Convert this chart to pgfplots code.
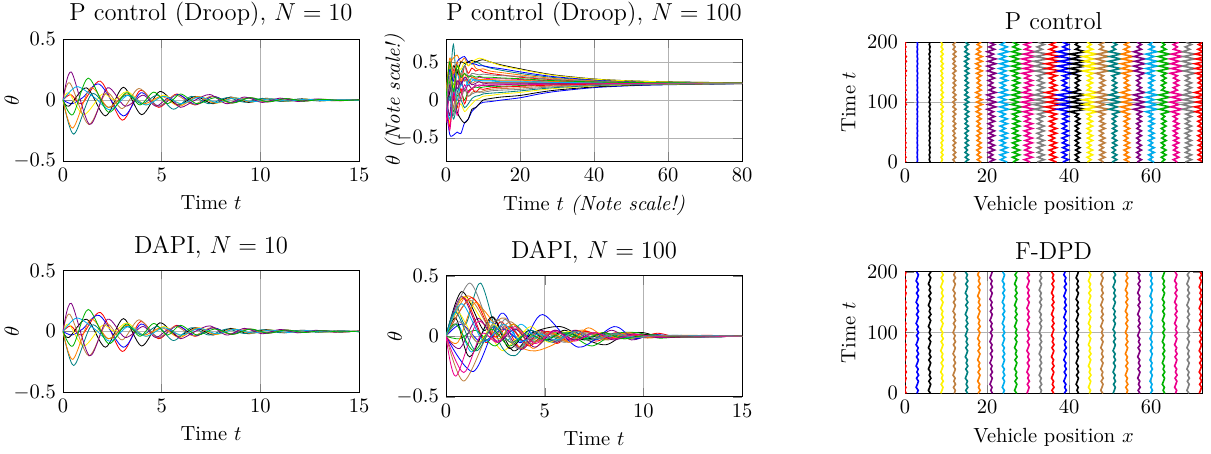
\documentclass[border=0pt]{standalone}
\usepackage{pgfplots}
\usepackage{pgfplotstable}
\pgfplotsset{compat=1.18}

% ---- N = 10 runs (P control and DAPI look the same) ----
\pgfplotstableread[row sep=\\]{t y\\0 0\\0.4 0.045\\0.95 -0.03\\1.9 0.155\\3.0 -0.165\\3.92 0.08\\4.84 -0.06\\5.76 0.05\\6.68 -0.04\\7.6 0.03\\8.52 -0.025\\9.44 0.02\\10.36 -0.015\\11.28 0.012\\12.2 -0.009\\13.12 0.007\\14.04 -0.005\\15 0.003\\}\qa
\pgfplotstableread[row sep=\\]{t y\\0 0\\0.45 -0.03\\1.0 0.02\\1.85 0.13\\3.05 -0.13\\3.95 0.06\\4.85 -0.05\\5.8 0.045\\6.7 -0.035\\7.6 0.03\\8.5 -0.02\\9.4 0.018\\10.3 -0.013\\11.2 0.01\\12.1 -0.008\\13 0.006\\14 -0.004\\15 0.002\\}\qb
\pgfplotstableread[row sep=\\]{t y\\0 0\\0.3 -0.05\\1.2 0.1\\2.15 -0.13\\3.06 0.105\\3.98 -0.12\\4.9 0.07\\5.8 -0.04\\6.7 0.03\\7.6 -0.03\\8.5 0.025\\9.4 -0.02\\10.3 0.015\\11.2 -0.012\\12.1 0.01\\13 -0.007\\14 0.005\\15 -0.003\\}\qc
\pgfplotstableread[row sep=\\]{t y\\0 0\\0.3 0.06\\1.05 -0.12\\2.0 0.05\\2.6 0.0\\3.25 0.07\\4.2 -0.04\\5.1 0.04\\6.0 -0.035\\6.9 0.03\\7.8 -0.025\\8.7 0.02\\9.6 -0.015\\10.5 0.012\\11.4 -0.01\\12.3 0.008\\13.2 -0.006\\15 0.002\\}\qd
\pgfplotstableread[row sep=\\]{t y\\0 0\\0.35 0.14\\1.3 -0.2\\2.2 0.06\\3.0 -0.07\\3.85 0.095\\4.8 -0.05\\5.7 0.04\\6.6 -0.035\\7.5 0.03\\8.4 -0.02\\9.3 0.018\\10.2 -0.014\\11.1 0.011\\12 -0.008\\12.9 0.006\\13.8 -0.004\\15 0.002\\}\qe
\pgfplotstableread[row sep=\\]{t y\\0 0\\0.55 -0.28\\1.45 0.05\\2.3 -0.06\\3.2 0.04\\4.0 -0.03\\4.8 0.04\\5.6 -0.075\\6.5 0.03\\7.4 -0.03\\8.3 0.02\\9.2 -0.018\\10.1 0.014\\11 -0.011\\11.9 0.008\\12.8 -0.006\\13.7 0.004\\15 -0.002\\}\qf
\pgfplotstableread[row sep=\\]{t y\\0 0\\0.5 -0.23\\1.4 0.1\\2.3 -0.06\\3.2 0.05\\4.1 -0.03\\5.0 0.03\\5.9 -0.05\\6.8 0.03\\7.7 -0.025\\8.6 0.02\\9.5 -0.016\\10.4 0.012\\11.3 -0.01\\12.2 0.007\\13.1 -0.005\\14 0.003\\15 -0.002\\}\qg
\pgfplotstableread[row sep=\\]{t y\\0 0\\0.42 0.23\\1.35 -0.2\\2.25 0.1\\3.15 -0.05\\4.05 0.04\\4.7 -0.05\\5.4 0.02\\5.95 -0.06\\6.7 0.0\\7.45 0.045\\8.3 -0.03\\9.2 0.025\\10.1 -0.02\\11 0.016\\11.9 -0.012\\12.8 0.009\\13.7 -0.006\\15 0.003\\}\qh
\pgfplotstableread[row sep=\\]{t y\\0 0\\0.7 0.11\\1.6 0.02\\2.4 -0.08\\3.3 0.04\\4.2 -0.04\\5.1 0.03\\6.0 -0.03\\6.9 0.025\\7.8 -0.02\\8.7 0.018\\9.6 -0.014\\10.5 0.011\\11.4 -0.009\\12.3 0.007\\13.2 -0.005\\14.1 0.003\\15 -0.002\\}\qi
\pgfplotstableread[row sep=\\]{t y\\0 0\\0.5 -0.12\\1.28 0.18\\2.3 -0.1\\3.2 0.06\\3.9 -0.04\\4.6 0.065\\5.3 -0.03\\5.95 0.05\\6.8 -0.03\\7.7 0.02\\8.6 -0.025\\9.5 0.02\\10.4 -0.015\\11.3 0.012\\12.2 -0.009\\13.1 0.006\\14 -0.004\\15 0.002\\}\qj

% ---- P control, N = 100 (24 of the runs) ----
\pgfplotstableread{
t a1 a2 a3 a4 a5 a6 a7 a8 a9 a10 a11 a12 a13 a14 a15 a16 a17 a18 a19 a20 a21 a22 a23 a24
0 0 -0.1 0 0.05 -0.2 0 -0.1 0.1 0.2 0 -0.3 0.1 0 0 0 -0.05 0 -0.15 0.1 -0.2 0 0 0 -0.1
1 0.3 -0.45 -0.2 -0.3 0.3 0.2 0.45 -0.2 0 0.25 0.1 0.35 -0.35 0.4 0.1 0.3 0.5 0.05 0.55 0.2 -0.25 0.5 -0.4 0.3
2 0.05 -0.46 0.1 0.2 -0.1 0.73 0.55 0.35 0.3 -0.15 0.4 0.2 0.05 0.25 0.45 0.15 0.3 -0.25 0.35 0 0.15 0.1 0.1 -0.2
3 0.4 -0.42 -0.15 -0.1 0.25 0.1 0.59 0.15 0.35 0.05 0.2 0.4 -0.1 0.5 0.35 0.45 0.2 -0.05 0.5 0.25 0 0.45 -0.2 0.1
4 0.2 -0.44 -0.25 -0.05 0.1 0.35 0.5 0.25 0.2 0.1 0.3 0.3 0.15 0.55 0.5 0.4 0.35 0 0.25 0.2 0.2 0.3 0.05 0
5 0.45 -0.3 -0.3 -0.15 0.15 0.45 0.55 0.12 0.28 0 0.25 0.45 -0.05 0.57 0.48 0.5 0.25 -0.1 0.35 0.3 0.15 0.35 0.2 0.15
6 0.35 -0.25 -0.25 -0.1 0.05 0.5 0.45 0.2 0.2 0.12 0.32 0.3 0.1 0.5 0.5 0.45 0.28 -0.05 0.22 0.25 0.25 0.3 0.1 0.05
7 0.42 -0.15 -0.12 -0.05 0.1 0.47 0.5 0.15 0.25 0.15 0.3 0.35 0.15 0.48 0.52 0.5 0.22 0.02 0.3 0.2 0.28 0.32 0.15 0.08
8 0.38 -0.1 -0.1 0 0.12 0.5 0.42 0.2 0.27 0.17 0.28 0.34 0.1 0.47 0.5 0.53 0.25 0.05 0.28 0.22 0.25 0.3 0.18 0.1
9 0.4 -0.05 -0.05 0.02 0.1 0.48 0.4 0.18 0.26 0.16 0.3 0.33 0.15 0.45 0.52 0.55 0.24 0.06 0.27 0.24 0.26 0.31 0.2 0.11
10 0.37 -0.03 0 0.05 0.12 0.45 0.41 0.2 0.26 0.17 0.29 0.34 0.14 0.45 0.53 0.54 0.23 0.08 0.27 0.22 0.25 0.3 0.19 0.1
12 0.35 -0.02 0.02 0.06 0.14 0.42 0.38 0.19 0.26 0.18 0.28 0.33 0.16 0.43 0.5 0.5 0.23 0.09 0.27 0.22 0.25 0.3 0.2 0.12
15 0.33 0 0.04 0.08 0.15 0.39 0.36 0.2 0.25 0.18 0.28 0.32 0.17 0.41 0.46 0.45 0.23 0.1 0.26 0.22 0.24 0.29 0.2 0.13
20 0.3 0.03 0.06 0.1 0.16 0.35 0.33 0.21 0.25 0.19 0.27 0.31 0.18 0.37 0.41 0.4 0.23 0.12 0.26 0.22 0.24 0.28 0.2 0.14
25 0.28 0.078 0.1 0.13 0.175 0.318 0.303 0.213 0.243 0.198 0.258 0.288 0.19 0.333 0.363 0.355 0.228 0.145 0.25 0.22 0.235 0.265 0.205 0.16
30 0.264 0.115 0.132 0.154 0.187 0.292 0.281 0.215 0.237 0.204 0.248 0.27 0.198 0.303 0.325 0.319 0.226 0.165 0.242 0.22 0.231 0.253 0.209 0.176
40 0.244 0.163 0.172 0.184 0.202 0.259 0.253 0.217 0.229 0.211 0.235 0.247 0.208 0.265 0.277 0.274 0.223 0.19 0.232 0.22 0.226 0.238 0.214 0.196
50 0.234 0.188 0.193 0.2 0.21 0.242 0.239 0.218 0.225 0.215 0.229 0.235 0.213 0.246 0.252 0.251 0.222 0.203 0.227 0.22 0.223 0.23 0.217 0.206
60 0.228 0.201 0.204 0.208 0.214 0.233 0.231 0.219 0.223 0.217 0.225 0.229 0.216 0.235 0.239 0.238 0.221 0.21 0.224 0.22 0.222 0.226 0.218 0.212
80 0.222 0.214 0.215 0.216 0.218 0.224 0.223 0.22 0.221 0.219 0.222 0.223 0.219 0.225 0.226 0.225 0.22 0.217 0.221 0.22 0.221 0.222 0.219 0.218
}\tabB

% ---- P control: deviation of each vehicle from its slot 3k, over time ----
\pgfplotstableread{
t d0 d1 d2 d3 d4 d5 d6 d7 d8 d9 d10 d11 d12 d13 d14 d15 d16 d17 d18 d19 d20 d21 d22 d23 d24
0 0.2 -0.04 0.12 -0.2 0.18 -0.4 0.55 -0.56 0.9 -0.72 0.5 -0.81 0.9 -0.56 0.6 -0.56 0.35 -0.54 0.7 -0.42 0.7 -0.48 0.35 -0.72 0.7
4 -0.14 0.05 -0.1 0.12 -0.32 0.45 -0.38 0.8 -0.72 0.45 -0.9 0.9 -0.63 0.8 -0.48 0.35 -0.63 0.6 -0.49 0.6 -0.56 0.3 -0.63 0.8 -0.49
8 0.2 -0.04 0.06 -0.22 0.35 -0.32 0.55 -0.64 0.45 -0.81 1 -0.63 0.9 -0.64 0.3 -0.63 0.7 -0.42 0.7 -0.48 0.35 -0.54 0.7 -0.56 0.7
12 -0.16 0.02 -0.11 0.25 -0.25 0.45 -0.44 0.4 -0.81 0.9 -0.7 0.9 -0.72 0.4 -0.54 0.7 -0.49 0.6 -0.56 0.3 -0.63 0.6 -0.49 0.8 -0.56
16 0.1 -0.04 0.12 -0.18 0.35 -0.36 0.28 -0.72 0.9 -0.63 1 -0.72 0.45 -0.72 0.6 -0.49 0.7 -0.48 0.35 -0.54 0.7 -0.42 0.7 -0.64 0.35
20 -0.18 0.05 -0.08 0.25 -0.28 0.22 -0.5 0.8 -0.63 0.9 -0.8 0.45 -0.81 0.8 -0.42 0.7 -0.56 0.3 -0.63 0.6 -0.49 0.6 -0.56 0.4 -0.63
24 0.2 -0.04 0.12 -0.2 0.18 -0.4 0.55 -0.56 0.9 -0.72 0.5 -0.81 0.9 -0.56 0.6 -0.56 0.35 -0.54 0.7 -0.42 0.7 -0.48 0.35 -0.72 0.7
28 -0.14 0.05 -0.1 0.12 -0.32 0.45 -0.38 0.8 -0.72 0.45 -0.9 0.9 -0.63 0.8 -0.48 0.35 -0.63 0.6 -0.49 0.6 -0.56 0.3 -0.63 0.8 -0.49
32 0.2 -0.04 0.06 -0.22 0.35 -0.32 0.55 -0.64 0.45 -0.81 1 -0.63 0.9 -0.64 0.3 -0.63 0.7 -0.42 0.7 -0.48 0.35 -0.54 0.7 -0.56 0.7
36 -0.16 0.02 -0.11 0.25 -0.25 0.45 -0.44 0.4 -0.81 0.9 -0.7 0.9 -0.72 0.4 -0.54 0.7 -0.49 0.6 -0.56 0.3 -0.63 0.6 -0.49 0.8 -0.56
40 0.1 -0.04 0.12 -0.18 0.35 -0.36 0.28 -0.72 0.9 -0.63 1 -0.72 0.45 -0.72 0.6 -0.49 0.7 -0.48 0.35 -0.54 0.7 -0.42 0.7 -0.64 0.35
44 -0.18 0.05 -0.08 0.25 -0.28 0.22 -0.5 0.8 -0.63 0.9 -0.8 0.45 -0.81 0.8 -0.42 0.7 -0.56 0.3 -0.63 0.6 -0.49 0.6 -0.56 0.4 -0.63
48 0.2 -0.04 0.12 -0.2 0.18 -0.4 0.55 -0.56 0.9 -0.72 0.5 -0.81 0.9 -0.56 0.6 -0.56 0.35 -0.54 0.7 -0.42 0.7 -0.48 0.35 -0.72 0.7
52 -0.14 0.05 -0.1 0.12 -0.32 0.45 -0.38 0.8 -0.72 0.45 -0.9 0.9 -0.63 0.8 -0.48 0.35 -0.63 0.6 -0.49 0.6 -0.56 0.3 -0.63 0.8 -0.49
56 0.2 -0.04 0.06 -0.22 0.35 -0.32 0.55 -0.64 0.45 -0.81 1 -0.63 0.9 -0.64 0.3 -0.63 0.7 -0.42 0.7 -0.48 0.35 -0.54 0.7 -0.56 0.7
60 -0.16 0.02 -0.11 0.25 -0.25 0.45 -0.44 0.4 -0.81 0.9 -0.7 0.9 -0.72 0.4 -0.54 0.7 -0.49 0.6 -0.56 0.3 -0.63 0.6 -0.49 0.8 -0.56
64 0.1 -0.04 0.12 -0.18 0.35 -0.36 0.28 -0.72 0.9 -0.63 1 -0.72 0.45 -0.72 0.6 -0.49 0.7 -0.48 0.35 -0.54 0.7 -0.42 0.7 -0.64 0.35
68 -0.18 0.05 -0.08 0.25 -0.28 0.22 -0.5 0.8 -0.63 0.9 -0.8 0.45 -0.81 0.8 -0.42 0.7 -0.56 0.3 -0.63 0.6 -0.49 0.6 -0.56 0.4 -0.63
72 0.2 -0.04 0.12 -0.2 0.18 -0.4 0.55 -0.56 0.9 -0.72 0.5 -0.81 0.9 -0.56 0.6 -0.56 0.35 -0.54 0.7 -0.42 0.7 -0.48 0.35 -0.72 0.7
76 -0.14 0.05 -0.1 0.12 -0.32 0.45 -0.38 0.8 -0.72 0.45 -0.9 0.9 -0.63 0.8 -0.48 0.35 -0.63 0.6 -0.49 0.6 -0.56 0.3 -0.63 0.8 -0.49
80 0.2 -0.04 0.06 -0.22 0.35 -0.32 0.55 -0.64 0.45 -0.81 1 -0.63 0.9 -0.64 0.3 -0.63 0.7 -0.42 0.7 -0.48 0.35 -0.54 0.7 -0.56 0.7
84 -0.24 0.04 -0.14 0.3 -0.28 0.55 -0.64 0.55 -1.08 1.3 -1.12 1.8 -1.52 1 -1.8 1.8 -1.12 1.5 -1.2 0.7 -1.26 1.4 -1.05 1.6 -1.2
88 0.15 -0.07 0.15 -0.21 0.4 -0.44 0.4 -0.99 1.2 -0.91 1.6 -1.44 0.95 -1.8 2 -1.26 1.6 -1.2 0.75 -1.26 1.4 -0.98 1.5 -1.28 0.75
92 -0.27 0.08 -0.1 0.3 -0.32 0.28 -0.72 1.1 -0.84 1.3 -1.28 0.9 -1.71 2 -1.4 1.8 -1.28 0.75 -1.35 1.4 -0.98 1.4 -1.2 0.8 -1.35
96 0.3 -0.06 0.15 -0.24 0.2 -0.5 0.8 -0.77 1.2 -1.04 0.8 -1.62 1.9 -1.4 2 -1.44 0.8 -1.35 1.5 -0.98 1.4 -1.12 0.75 -1.44 1.5
100 -0.21 0.08 -0.12 0.15 -0.36 0.55 -0.56 1.1 -0.96 0.65 -1.44 1.8 -1.33 2 -1.6 0.9 -1.44 1.5 -1.05 1.4 -1.12 0.7 -1.35 1.6 -1.05
104 0.3 -0.06 0.08 -0.27 0.4 -0.38 0.8 -0.88 0.6 -1.17 1.6 -1.26 1.9 -1.6 1 -1.62 1.6 -1.05 1.5 -1.12 0.7 -1.26 1.5 -1.12 1.5
108 -0.24 0.04 -0.14 0.3 -0.28 0.55 -0.64 0.55 -1.08 1.3 -1.12 1.8 -1.52 1 -1.8 1.8 -1.12 1.5 -1.2 0.7 -1.26 1.4 -1.05 1.6 -1.2
112 0.15 -0.07 0.15 -0.21 0.4 -0.44 0.4 -0.99 1.2 -0.91 1.6 -1.44 0.95 -1.8 2 -1.26 1.6 -1.2 0.75 -1.26 1.4 -0.98 1.5 -1.28 0.75
116 -0.27 0.08 -0.1 0.3 -0.32 0.28 -0.72 1.1 -0.84 1.3 -1.28 0.9 -1.71 2 -1.4 1.8 -1.28 0.75 -1.35 1.4 -0.98 1.4 -1.2 0.8 -1.35
120 0.2 -0.04 0.12 -0.2 0.18 -0.4 0.55 -0.56 0.9 -0.72 0.5 -0.81 0.9 -0.56 0.6 -0.56 0.35 -0.54 0.7 -0.42 0.7 -0.48 0.35 -0.72 0.7
124 -0.14 0.05 -0.1 0.12 -0.32 0.45 -0.38 0.8 -0.72 0.45 -0.9 0.9 -0.63 0.8 -0.48 0.35 -0.63 0.6 -0.49 0.6 -0.56 0.3 -0.63 0.8 -0.49
128 0.2 -0.04 0.06 -0.22 0.35 -0.32 0.55 -0.64 0.45 -0.81 1 -0.63 0.9 -0.64 0.3 -0.63 0.7 -0.42 0.7 -0.48 0.35 -0.54 0.7 -0.56 0.7
132 -0.16 0.02 -0.11 0.25 -0.25 0.45 -0.44 0.4 -0.81 0.9 -0.7 0.9 -0.72 0.4 -0.54 0.7 -0.49 0.6 -0.56 0.3 -0.63 0.6 -0.49 0.8 -0.56
136 0.1 -0.04 0.12 -0.18 0.35 -0.36 0.28 -0.72 0.9 -0.63 1 -0.72 0.45 -0.72 0.6 -0.49 0.7 -0.48 0.35 -0.54 0.7 -0.42 0.7 -0.64 0.35
140 -0.18 0.05 -0.08 0.25 -0.28 0.22 -0.5 0.8 -0.63 0.9 -0.8 0.45 -0.81 0.8 -0.42 0.7 -0.56 0.3 -0.63 0.6 -0.49 0.6 -0.56 0.4 -0.63
144 0.2 -0.04 0.12 -0.2 0.18 -0.4 0.55 -0.56 0.9 -0.72 0.5 -0.81 0.9 -0.56 0.6 -0.56 0.35 -0.54 0.7 -0.42 0.7 -0.48 0.35 -0.72 0.7
148 -0.21 0.08 -0.12 0.15 -0.36 0.55 -0.56 1.1 -0.96 0.65 -1.44 1.8 -1.33 2 -1.6 0.9 -1.44 1.5 -1.05 1.4 -1.12 0.7 -1.35 1.6 -1.05
152 0.3 -0.06 0.08 -0.27 0.4 -0.38 0.8 -0.88 0.6 -1.17 1.6 -1.26 1.9 -1.6 1 -1.62 1.6 -1.05 1.5 -1.12 0.7 -1.26 1.5 -1.12 1.5
156 -0.24 0.04 -0.14 0.3 -0.28 0.55 -0.64 0.55 -1.08 1.3 -1.12 1.8 -1.52 1 -1.8 1.8 -1.12 1.5 -1.2 0.7 -1.26 1.4 -1.05 1.6 -1.2
160 0.15 -0.07 0.15 -0.21 0.4 -0.44 0.4 -0.99 1.2 -0.91 1.6 -1.44 0.95 -1.8 2 -1.26 1.6 -1.2 0.75 -1.26 1.4 -0.98 1.5 -1.28 0.75
164 -0.27 0.08 -0.1 0.3 -0.32 0.28 -0.72 1.1 -0.84 1.3 -1.28 0.9 -1.71 2 -1.4 1.8 -1.28 0.75 -1.35 1.4 -0.98 1.4 -1.2 0.8 -1.35
168 0.3 -0.06 0.15 -0.24 0.2 -0.5 0.8 -0.77 1.2 -1.04 0.8 -1.62 1.9 -1.4 2 -1.44 0.8 -1.35 1.5 -0.98 1.4 -1.12 0.75 -1.44 1.5
172 -0.21 0.08 -0.12 0.15 -0.36 0.55 -0.56 1.1 -0.96 0.65 -1.44 1.8 -1.33 2 -1.6 0.9 -1.44 1.5 -1.05 1.4 -1.12 0.7 -1.35 1.6 -1.05
176 0.3 -0.06 0.08 -0.27 0.4 -0.38 0.8 -0.88 0.6 -1.17 1.6 -1.26 1.9 -1.6 1 -1.62 1.6 -1.05 1.5 -1.12 0.7 -1.26 1.5 -1.12 1.5
180 -0.24 0.04 -0.14 0.3 -0.28 0.55 -0.64 0.55 -1.08 1.3 -1.12 1.8 -1.52 1 -1.8 1.8 -1.12 1.5 -1.2 0.7 -1.26 1.4 -1.05 1.6 -1.2
184 0.15 -0.07 0.15 -0.21 0.4 -0.44 0.4 -0.99 1.2 -0.91 1.6 -1.44 0.95 -1.8 2 -1.26 1.6 -1.2 0.75 -1.26 1.4 -0.98 1.5 -1.28 0.75
188 -0.18 0.05 -0.08 0.25 -0.28 0.22 -0.5 0.8 -0.63 0.9 -0.8 0.45 -0.81 0.8 -0.42 0.7 -0.56 0.3 -0.63 0.6 -0.49 0.6 -0.56 0.4 -0.63
192 0.2 -0.04 0.12 -0.2 0.18 -0.4 0.55 -0.56 0.9 -0.72 0.5 -0.81 0.9 -0.56 0.6 -0.56 0.35 -0.54 0.7 -0.42 0.7 -0.48 0.35 -0.72 0.7
196 -0.14 0.05 -0.1 0.12 -0.32 0.45 -0.38 0.8 -0.72 0.45 -0.9 0.9 -0.63 0.8 -0.48 0.35 -0.63 0.6 -0.49 0.6 -0.56 0.3 -0.63 0.8 -0.49
200 0.2 -0.04 0.06 -0.22 0.35 -0.32 0.55 -0.64 0.45 -0.81 1 -0.63 0.9 -0.64 0.3 -0.63 0.7 -0.42 0.7 -0.48 0.35 -0.54 0.7 -0.56 0.7
}\tabP

% ---- F-DPD: small jitter around each slot ----
\pgfplotstableread{
t d0 d1 d2 d3 d4 d5 d6 d7 d8 d9 d10 d11 d12 d13 d14 d15 d16 d17 d18 d19 d20 d21 d22 d23 d24
0 0.3 -0.1 0.2 -0.3 0 0.25 -0.2 0.3 -0.1 0.2 -0.3 0 0.25 -0.2 0.3 -0.1 0.2 -0.3 0 0.25 -0.2 0.3 -0.1 0.2 -0.3
5 -0.1 0.2 -0.3 0 0.25 -0.2 0.3 -0.1 0.2 -0.3 0 0.25 -0.2 0.3 -0.1 0.2 -0.3 0 0.25 -0.2 0.3 -0.1 0.2 -0.3 0
10 0.2 -0.3 0 0.25 -0.2 0.3 -0.1 0.2 -0.3 0 0.25 -0.2 0.3 -0.1 0.2 -0.3 0 0.25 -0.2 0.3 -0.1 0.2 -0.3 0 0.25
15 -0.3 0 0.25 -0.2 0.3 -0.1 0.2 -0.3 0 0.25 -0.2 0.3 -0.1 0.2 -0.3 0 0.25 -0.2 0.3 -0.1 0.2 -0.3 0 0.25 -0.2
20 0 0.25 -0.2 0.3 -0.1 0.2 -0.3 0 0.25 -0.2 0.3 -0.1 0.2 -0.3 0 0.25 -0.2 0.3 -0.1 0.2 -0.3 0 0.25 -0.2 0.3
25 0.25 -0.2 0.3 -0.1 0.2 -0.3 0 0.25 -0.2 0.3 -0.1 0.2 -0.3 0 0.25 -0.2 0.3 -0.1 0.2 -0.3 0 0.25 -0.2 0.3 -0.1
30 -0.2 0.3 -0.1 0.2 -0.3 0 0.25 -0.2 0.3 -0.1 0.2 -0.3 0 0.25 -0.2 0.3 -0.1 0.2 -0.3 0 0.25 -0.2 0.3 -0.1 0.2
35 0.3 -0.1 0.2 -0.3 0 0.25 -0.2 0.3 -0.1 0.2 -0.3 0 0.25 -0.2 0.3 -0.1 0.2 -0.3 0 0.25 -0.2 0.3 -0.1 0.2 -0.3
40 -0.1 0.2 -0.3 0 0.25 -0.2 0.3 -0.1 0.2 -0.3 0 0.25 -0.2 0.3 -0.1 0.2 -0.3 0 0.25 -0.2 0.3 -0.1 0.2 -0.3 0
45 0.2 -0.3 0 0.25 -0.2 0.3 -0.1 0.2 -0.3 0 0.25 -0.2 0.3 -0.1 0.2 -0.3 0 0.25 -0.2 0.3 -0.1 0.2 -0.3 0 0.25
50 -0.3 0 0.25 -0.2 0.3 -0.1 0.2 -0.3 0 0.25 -0.2 0.3 -0.1 0.2 -0.3 0 0.25 -0.2 0.3 -0.1 0.2 -0.3 0 0.25 -0.2
55 0 0.25 -0.2 0.3 -0.1 0.2 -0.3 0 0.25 -0.2 0.3 -0.1 0.2 -0.3 0 0.25 -0.2 0.3 -0.1 0.2 -0.3 0 0.25 -0.2 0.3
60 0.25 -0.2 0.3 -0.1 0.2 -0.3 0 0.25 -0.2 0.3 -0.1 0.2 -0.3 0 0.25 -0.2 0.3 -0.1 0.2 -0.3 0 0.25 -0.2 0.3 -0.1
65 -0.2 0.3 -0.1 0.2 -0.3 0 0.25 -0.2 0.3 -0.1 0.2 -0.3 0 0.25 -0.2 0.3 -0.1 0.2 -0.3 0 0.25 -0.2 0.3 -0.1 0.2
70 0.3 -0.1 0.2 -0.3 0 0.25 -0.2 0.3 -0.1 0.2 -0.3 0 0.25 -0.2 0.3 -0.1 0.2 -0.3 0 0.25 -0.2 0.3 -0.1 0.2 -0.3
75 -0.1 0.2 -0.3 0 0.25 -0.2 0.3 -0.1 0.2 -0.3 0 0.25 -0.2 0.3 -0.1 0.2 -0.3 0 0.25 -0.2 0.3 -0.1 0.2 -0.3 0
80 0.2 -0.3 0 0.25 -0.2 0.3 -0.1 0.2 -0.3 0 0.25 -0.2 0.3 -0.1 0.2 -0.3 0 0.25 -0.2 0.3 -0.1 0.2 -0.3 0 0.25
85 -0.3 0 0.25 -0.2 0.3 -0.1 0.2 -0.3 0 0.25 -0.2 0.3 -0.1 0.2 -0.3 0 0.25 -0.2 0.3 -0.1 0.2 -0.3 0 0.25 -0.2
90 0 0.25 -0.2 0.3 -0.1 0.2 -0.3 0 0.25 -0.2 0.3 -0.1 0.2 -0.3 0 0.25 -0.2 0.3 -0.1 0.2 -0.3 0 0.25 -0.2 0.3
95 0.25 -0.2 0.3 -0.1 0.2 -0.3 0 0.25 -0.2 0.3 -0.1 0.2 -0.3 0 0.25 -0.2 0.3 -0.1 0.2 -0.3 0 0.25 -0.2 0.3 -0.1
100 -0.2 0.3 -0.1 0.2 -0.3 0 0.25 -0.2 0.3 -0.1 0.2 -0.3 0 0.25 -0.2 0.3 -0.1 0.2 -0.3 0 0.25 -0.2 0.3 -0.1 0.2
105 0.3 -0.1 0.2 -0.3 0 0.25 -0.2 0.3 -0.1 0.2 -0.3 0 0.25 -0.2 0.3 -0.1 0.2 -0.3 0 0.25 -0.2 0.3 -0.1 0.2 -0.3
110 -0.1 0.2 -0.3 0 0.25 -0.2 0.3 -0.1 0.2 -0.3 0 0.25 -0.2 0.3 -0.1 0.2 -0.3 0 0.25 -0.2 0.3 -0.1 0.2 -0.3 0
115 0.2 -0.3 0 0.25 -0.2 0.3 -0.1 0.2 -0.3 0 0.25 -0.2 0.3 -0.1 0.2 -0.3 0 0.25 -0.2 0.3 -0.1 0.2 -0.3 0 0.25
120 -0.3 0 0.25 -0.2 0.3 -0.1 0.2 -0.3 0 0.25 -0.2 0.3 -0.1 0.2 -0.3 0 0.25 -0.2 0.3 -0.1 0.2 -0.3 0 0.25 -0.2
125 0 0.25 -0.2 0.3 -0.1 0.2 -0.3 0 0.25 -0.2 0.3 -0.1 0.2 -0.3 0 0.25 -0.2 0.3 -0.1 0.2 -0.3 0 0.25 -0.2 0.3
130 0.25 -0.2 0.3 -0.1 0.2 -0.3 0 0.25 -0.2 0.3 -0.1 0.2 -0.3 0 0.25 -0.2 0.3 -0.1 0.2 -0.3 0 0.25 -0.2 0.3 -0.1
135 -0.2 0.3 -0.1 0.2 -0.3 0 0.25 -0.2 0.3 -0.1 0.2 -0.3 0 0.25 -0.2 0.3 -0.1 0.2 -0.3 0 0.25 -0.2 0.3 -0.1 0.2
140 0.3 -0.1 0.2 -0.3 0 0.25 -0.2 0.3 -0.1 0.2 -0.3 0 0.25 -0.2 0.3 -0.1 0.2 -0.3 0 0.25 -0.2 0.3 -0.1 0.2 -0.3
145 -0.1 0.2 -0.3 0 0.25 -0.2 0.3 -0.1 0.2 -0.3 0 0.25 -0.2 0.3 -0.1 0.2 -0.3 0 0.25 -0.2 0.3 -0.1 0.2 -0.3 0
150 0.2 -0.3 0 0.25 -0.2 0.3 -0.1 0.2 -0.3 0 0.25 -0.2 0.3 -0.1 0.2 -0.3 0 0.25 -0.2 0.3 -0.1 0.2 -0.3 0 0.25
155 -0.3 0 0.25 -0.2 0.3 -0.1 0.2 -0.3 0 0.25 -0.2 0.3 -0.1 0.2 -0.3 0 0.25 -0.2 0.3 -0.1 0.2 -0.3 0 0.25 -0.2
160 0 0.25 -0.2 0.3 -0.1 0.2 -0.3 0 0.25 -0.2 0.3 -0.1 0.2 -0.3 0 0.25 -0.2 0.3 -0.1 0.2 -0.3 0 0.25 -0.2 0.3
165 0.25 -0.2 0.3 -0.1 0.2 -0.3 0 0.25 -0.2 0.3 -0.1 0.2 -0.3 0 0.25 -0.2 0.3 -0.1 0.2 -0.3 0 0.25 -0.2 0.3 -0.1
170 -0.2 0.3 -0.1 0.2 -0.3 0 0.25 -0.2 0.3 -0.1 0.2 -0.3 0 0.25 -0.2 0.3 -0.1 0.2 -0.3 0 0.25 -0.2 0.3 -0.1 0.2
175 0.3 -0.1 0.2 -0.3 0 0.25 -0.2 0.3 -0.1 0.2 -0.3 0 0.25 -0.2 0.3 -0.1 0.2 -0.3 0 0.25 -0.2 0.3 -0.1 0.2 -0.3
180 -0.1 0.2 -0.3 0 0.25 -0.2 0.3 -0.1 0.2 -0.3 0 0.25 -0.2 0.3 -0.1 0.2 -0.3 0 0.25 -0.2 0.3 -0.1 0.2 -0.3 0
185 0.2 -0.3 0 0.25 -0.2 0.3 -0.1 0.2 -0.3 0 0.25 -0.2 0.3 -0.1 0.2 -0.3 0 0.25 -0.2 0.3 -0.1 0.2 -0.3 0 0.25
190 -0.3 0 0.25 -0.2 0.3 -0.1 0.2 -0.3 0 0.25 -0.2 0.3 -0.1 0.2 -0.3 0 0.25 -0.2 0.3 -0.1 0.2 -0.3 0 0.25 -0.2
195 0 0.25 -0.2 0.3 -0.1 0.2 -0.3 0 0.25 -0.2 0.3 -0.1 0.2 -0.3 0 0.25 -0.2 0.3 -0.1 0.2 -0.3 0 0.25 -0.2 0.3
200 0.25 -0.2 0.3 -0.1 0.2 -0.3 0 0.25 -0.2 0.3 -0.1 0.2 -0.3 0 0.25 -0.2 0.3 -0.1 0.2 -0.3 0 0.25 -0.2 0.3 -0.1
}\tabF

\pgfplotsset{
  panel/.style={scale only axis, anchor=south west, grid=major,
    grid style={black!30}, cycle list name=color list,
    title style={font=\large, yshift=-3.5pt}},
  ylab/.style={ylabel style={at={(axis description cs:#1,0.5)}, anchor=center}},
}

\begin{document}
\begin{tikzpicture}
\useasboundingbox (0,0) rectangle (590.7pt,221pt);

% top left
\begin{axis}[panel, at={(30.73pt,142.44pt)}, width=144.4pt, height=59.5pt,
  xmin=0, xmax=15, ymin=-0.5, ymax=0.5, xtick={0,5,10,15}, ytick={-0.5,0,0.5},
  title={P control (Droop), $N=10$}, xlabel={Time $t$}, ylabel={$\theta$}, ylab=-0.173]
  \addplot+[smooth] table {\qa};
  \addplot+[smooth] table {\qb};
  \addplot+[smooth] table {\qc};
  \addplot+[smooth] table {\qd};
  \addplot+[smooth] table {\qe};
  \addplot+[smooth] table {\qf};
  \addplot+[smooth] table {\qg};
  \addplot+[smooth] table {\qh};
  \addplot+[smooth] table {\qi};
  \addplot+[smooth] table {\qj};
\end{axis}

% top middle
\begin{axis}[panel, at={(217.56pt,142.44pt)}, width=144.4pt, height=59.5pt,
  xmin=0, xmax=80, ymin=-0.8, ymax=0.8, xtick={0,20,40,60,80}, ytick={-0.5,0,0.5},
  title={P control (Droop), $N=100$}, xlabel={Time $t$ \textit{(Note scale!)}},
  ylabel={$\theta$ \textit{(Note scale!)}}, ylab=-0.173]
  \pgfplotsinvokeforeach{1,...,24}{\addplot+[smooth] table[x=t, y=a#1] {\tabB};}
\end{axis}

% top right
\begin{axis}[panel, at={(441.46pt,141.95pt)}, width=144.9pt, height=58.5pt,
  xmin=0, xmax=72.4, ymin=0, ymax=200, xtick={0,20,40,60}, ytick={0,100,200},
  title={P control}, xlabel={Vehicle position $x$}, ylabel={Time $t$}, ylab=-0.19]
  \pgfplotsinvokeforeach{0,...,24}{\addplot+[thick] table[x expr=\thisrow{d#1}+3*#1, y=t] {\tabP};}
\end{axis}

% bottom left
\begin{axis}[panel, at={(30.73pt,29.6pt)}, width=144.4pt, height=59.5pt,
  xmin=0, xmax=15, ymin=-0.5, ymax=0.5, xtick={0,5,10,15}, ytick={-0.5,0,0.5},
  title={DAPI, $N=10$}, xlabel={Time $t$}, ylabel={$\theta$}, ylab=-0.173]
  \addplot+[smooth] table {\qa};
  \addplot+[smooth] table {\qb};
  \addplot+[smooth] table {\qc};
  \addplot+[smooth] table {\qd};
  \addplot+[smooth] table {\qe};
  \addplot+[smooth] table {\qf};
  \addplot+[smooth] table {\qg};
  \addplot+[smooth] table {\qh};
  \addplot+[smooth] table {\qi};
  \addplot+[smooth] table {\qj};
\end{axis}

% bottom middle
\begin{axis}[panel, at={(217.56pt,27.46pt)}, width=144.4pt, height=59pt,
  xmin=0, xmax=15, ymin=-0.5, ymax=0.5, xtick={0,5,10,15}, ytick={-0.5,0,0.5},
  title={DAPI, $N=100$}, xlabel={Time $t$}, ylabel={$\theta$}, ylab=-0.173]
  \addplot+[smooth] coordinates {(0,0)(0.9,0.32)(2.0,-0.05)(2.8,0.12)(3.8,-0.1)(4.7,0.05)(5.6,-0.06)(6.6,0.05)(7.6,-0.04)(8.6,0.03)(9.6,-0.02)(10.7,0.025)(11.8,-0.01)(13,0.008)(15,0)};
  \addplot+[smooth] coordinates {(0,0)(1.4,-0.29)(2.8,0.19)(3.7,-0.05)(4.5,0.04)(5.5,-0.04)(6.5,0.03)(7.5,-0.03)(8.5,0.02)(9.5,-0.015)(10.5,0.01)(12,-0.005)(15,0)};
  \addplot+[smooth] coordinates {(0,0)(0.8,0.37)(1.9,0.05)(2.4,0.16)(3.4,-0.12)(4.4,0.03)(5.8,0.08)(7.0,-0.02)(8.1,-0.07)(9.1,0.02)(10,0.03)(11,-0.01)(12.5,0.005)(15,0)};
  \addplot+[smooth] coordinates {(0,0)(0.9,0.33)(2.1,0.05)(2.9,-0.12)(3.9,0.04)(4.8,-0.05)(5.8,0.04)(6.8,-0.03)(7.8,0.03)(8.8,-0.02)(10,0.015)(11.5,-0.008)(13,0.004)(15,0)};
  \addplot+[smooth] coordinates {(0,0)(0.9,-0.37)(2.2,0.05)(3.0,0.15)(4.0,-0.05)(5.0,0.04)(6.0,-0.04)(7.0,0.04)(8.0,-0.03)(9.0,0.02)(10.2,-0.015)(11.5,0.008)(13,-0.004)(15,0)};
  \addplot+[smooth] coordinates {(0,0)(0.5,0.25)(1.0,0.1)(1.75,0.44)(2.7,-0.05)(3.5,-0.16)(4.5,0.03)(5.4,-0.05)(6.4,0.04)(7.4,-0.03)(8.4,0.02)(9.4,-0.02)(10.5,0.01)(12,-0.005)(15,0)};
  \addplot+[smooth] coordinates {(0,0)(1.0,0.33)(2.0,0.2)(3.0,-0.02)(4.3,-0.12)(5.3,-0.08)(6.8,0.05)(7.8,0.0)(8.8,0.02)(10,-0.01)(11.5,0.005)(15,0)};
  \addplot+[smooth] coordinates {(0,0)(0.8,0.33)(1.9,-0.03)(2.8,0.08)(3.8,-0.11)(4.8,0.05)(5.6,-0.05)(6.5,0.05)(7.5,-0.02)(8.4,0.05)(9.4,-0.03)(10.4,0.01)(12,-0.006)(15,0)};
  \addplot+[smooth] coordinates {(0,0)(0.6,0.1)(1.3,-0.13)(2.2,0.12)(3.1,-0.03)(3.8,0.1)(4.8,-0.04)(5.8,0.03)(6.8,-0.03)(7.8,0.02)(8.8,-0.02)(10,0.01)(11.5,-0.005)(15,0)};
  \addplot+[smooth] coordinates {(0,0)(0.7,-0.02)(1.5,0.05)(2.5,-0.08)(3.4,0.1)(4.4,-0.04)(5.4,0.03)(6.4,0.0)(7.4,-0.08)(8.5,0.02)(9.7,0.03)(10.8,-0.015)(12.5,0.006)(15,0)};
  \addplot+[smooth] coordinates {(0,0)(0.5,-0.33)(1.6,0.12)(2.6,-0.04)(3.5,0.06)(4.5,-0.05)(5.5,0.05)(6.5,-0.03)(7.5,0.02)(8.5,-0.02)(9.5,0.01)(11,-0.005)(15,0)};
  \addplot+[smooth] coordinates {(0,0)(1.2,0.44)(2.4,0.0)(3.0,0.14)(4.0,-0.06)(5.0,0.03)(6.0,-0.05)(7.0,0.03)(8.0,-0.02)(9.0,0.02)(10.2,-0.01)(11.7,0.006)(15,0)};
  \addplot+[smooth] coordinates {(0,0)(1.3,0.32)(2.4,0.0)(3.2,0.08)(4.2,-0.08)(5.1,0.04)(6.1,-0.03)(7.1,0.04)(8.1,-0.02)(9.1,0.02)(10.3,-0.01)(11.8,0.006)(15,0)};
  \addplot+[smooth] coordinates {(0,0)(0.8,0.1)(1.8,-0.05)(2.9,0.06)(3.9,-0.04)(4.9,0.18)(6.7,-0.09)(8.5,0.08)(9.5,-0.02)(10.5,0.015)(12,-0.005)(15,0)};
  \addplot+[smooth] coordinates {(0,0)(0.5,0.15)(1.2,-0.17)(2.3,0.16)(3.2,-0.1)(4.2,0.05)(5.1,-0.03)(6.0,0.05)(7.0,-0.03)(8.0,0.03)(9.0,-0.02)(10.2,0.015)(11.5,-0.008)(13,0.004)(15,0)};
  \addplot+[smooth] coordinates {(0,0)(0.6,0.2)(1.6,-0.05)(2.4,0.1)(3.3,-0.05)(4.3,0.08)(5.2,-0.05)(6.2,0.04)(7.2,-0.03)(8.2,0.02)(9.2,-0.02)(10.4,0.01)(12,-0.005)(15,0)};
  \addplot+[smooth] coordinates {(0,0)(1.2,0.3)(2.4,0.02)(3.3,0.12)(4.3,-0.06)(5.2,0.03)(6.2,-0.05)(7.2,0.03)(8.2,-0.03)(9.2,0.02)(10.4,-0.01)(12,0.005)(15,0)};
  \addplot+[smooth] coordinates {(0,0)(0.5,0.2)(1.5,-0.12)(2.4,0.08)(3.3,-0.05)(4.3,0.05)(5.2,-0.04)(6.2,0.03)(7.2,-0.03)(8.2,0.02)(9.2,-0.015)(10.4,0.01)(12,-0.005)(15,0)};
  \addplot+[smooth] coordinates {(0,0)(0.6,-0.05)(1.5,0.28)(2.6,-0.02)(3.4,0.1)(4.4,-0.1)(5.3,0.03)(6.3,-0.05)(7.2,0.07)(8.2,-0.02)(9.2,0.03)(10.4,-0.01)(12,0.008)(15,0)};
  \addplot+[smooth] coordinates {(0,0)(0.7,-0.1)(1.6,0.15)(2.6,-0.05)(3.5,0.06)(4.5,-0.09)(5.5,0.05)(6.5,-0.03)(7.5,0.03)(8.5,-0.03)(9.5,0.02)(10.7,-0.01)(12.5,0.004)(15,0)};
  \addplot+[smooth] coordinates {(0,0)(0.8,0.27)(1.9,-0.04)(2.9,0.1)(3.8,-0.04)(4.7,0.02)(5.6,-0.03)(6.6,0.04)(7.6,-0.02)(8.6,0.02)(9.6,-0.01)(11,0.008)(15,0)};
  \addplot+[smooth] coordinates {(0,0)(0.5,0.1)(1.4,-0.12)(2.3,0.06)(3.2,-0.08)(4.1,0.02)(5.0,-0.03)(6.0,0.03)(7.0,-0.02)(8.0,0.03)(9.0,-0.02)(10.2,0.01)(12,-0.005)(15,0)};
  \addplot+[smooth] coordinates {(0,0)(0.9,-0.3)(1.8,0.02)(2.6,-0.05)(3.5,0.08)(4.5,-0.06)(5.5,0.04)(6.5,-0.04)(7.5,0.03)(8.5,-0.02)(9.6,0.015)(11,-0.006)(15,0)};
  \addplot+[smooth] coordinates {(0,0)(0.7,0.12)(1.7,-0.06)(2.6,0.14)(3.6,-0.1)(4.6,0.04)(5.6,-0.04)(6.6,0.04)(7.6,-0.02)(8.6,0.02)(9.6,-0.01)(11,0.006)(15,0)};
\end{axis}

% bottom right
\begin{axis}[panel, at={(441.46pt,29.12pt)}, width=144.9pt, height=59.3pt,
  xmin=0, xmax=72.4, ymin=0, ymax=200, xtick={0,20,40,60}, ytick={0,100,200},
  title={F-DPD}, xlabel={Vehicle position $x$}, ylabel={Time $t$}, ylab=-0.19]
  \pgfplotsinvokeforeach{0,...,24}{\addplot+[thick] table[x expr=\thisrow{d#1}+3*#1, y=t] {\tabF};}
\end{axis}
\end{tikzpicture}
\end{document}
